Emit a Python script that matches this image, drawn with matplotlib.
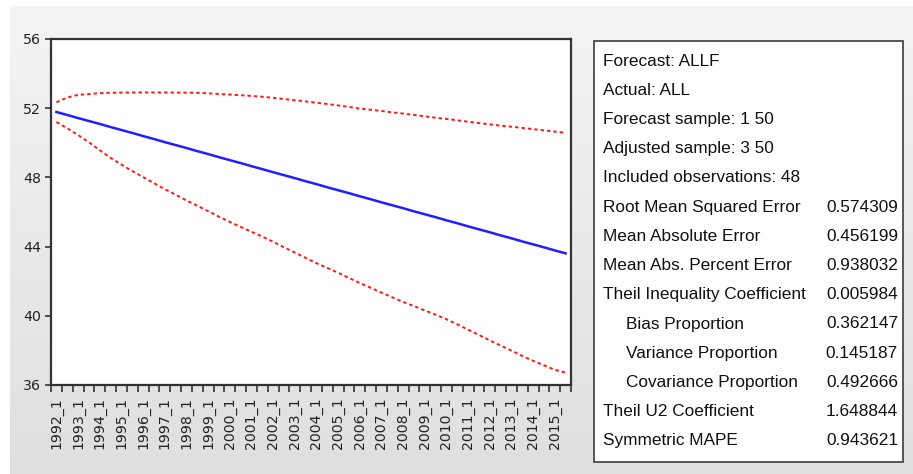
import numpy as np
import matplotlib
matplotlib.use("Agg")
import matplotlib.pyplot as plt
from matplotlib.patches import Rectangle

# ---------------- data ----------------
years = list(range(1992, 2016))
tick_labels = [f"{y}_1" for y in years]

forecast = [51.78, 51.61, 51.43, 51.26, 51.09, 50.91, 50.74, 50.57, 50.39, 50.22,
            50.04, 49.87, 49.70, 49.52, 49.35, 49.17, 49.00, 48.83, 48.65, 48.48,
            48.30, 48.13, 47.96, 47.78, 47.61, 47.43, 47.26, 47.09, 46.91, 46.74,
            46.56, 46.39, 46.22, 46.04, 45.87, 45.70, 45.52, 45.35, 45.17, 45.00,
            44.83, 44.65, 44.48, 44.30, 44.13, 43.96, 43.78, 43.61]

upper = [52.34, 52.62, 52.77, 52.82, 52.87, 52.89, 52.90, 52.91, 52.91, 52.91,
         52.91, 52.90, 52.90, 52.89, 52.86, 52.82, 52.79, 52.75, 52.71, 52.66,
         52.60, 52.53, 52.46, 52.39, 52.32, 52.24, 52.16, 52.07, 51.98, 51.91,
         51.84, 51.76, 51.69, 51.61, 51.53, 51.45, 51.38, 51.30, 51.22, 51.14,
         51.07, 50.99, 50.93, 50.86, 50.79, 50.72, 50.65, 50.58]

lower = [51.20, 50.84, 50.45, 50.03, 49.57, 49.13, 48.74, 48.37, 48.02, 47.67,
         47.32, 47.00, 46.67, 46.36, 46.05, 45.73, 45.43, 45.14, 44.86, 44.58,
         44.28, 43.96, 43.66, 43.35, 43.04, 42.77, 42.49, 42.19, 41.90, 41.62,
         41.34, 41.07, 40.80, 40.56, 40.31, 40.07, 39.80, 39.51, 39.20, 38.89,
         38.58, 38.28, 37.99, 37.68, 37.40, 37.14, 36.88, 36.72]

y_ticks = [36, 40, 44, 48, 52, 56]

stats_labels = ["Forecast: ALLF", "Actual: ALL", "Forecast sample: 1 50",
                "Adjusted sample: 3 50", "Included observations: 48",
                "Root Mean Squared Error", "Mean Absolute Error",
                "Mean Abs. Percent Error", "Theil Inequality Coefficient",
                "Bias Proportion", "Variance Proportion", "Covariance Proportion",
                "Theil U2 Coefficient", "Symmetric MAPE"]
stats_values = ["", "", "", "", "", "0.574309", "0.456199", "0.938032", "0.005984",
                "0.362147", "0.145187", "0.492666", "1.648844", "0.943621"]
stats_indent = [False] * 9 + [True, True, True, False, False]

# ---------------- figure ----------------
W, H = 913, 474
fig = plt.figure(figsize=(W / 100, H / 100), dpi=100)
fig.patch.set_facecolor("white")

def fx(px):
    return px / W

def fy(py):
    return 1 - py / H

# gradient background
bg = fig.add_axes([fx(10), 0, 1 - fx(10), fy(6)])
grad = np.linspace(0, 1, 256).reshape(-1, 1)
c_top = np.array([0.957, 0.957, 0.957])
c_bot = np.array([0.875, 0.875, 0.875])
img = c_top[None, None, :] * (1 - grad[:, :, None]) + c_bot[None, None, :] * grad[:, :, None]
bg.imshow(img, aspect="auto", extent=[0, 1, 0, 1])
bg.set_axis_off()
bg.set_zorder(0)

# main axes
left, right, top, bottom = 51, 571, 39, 385
ax = fig.add_axes([fx(left), fy(bottom), fx(right - left), (bottom - top) / H])
ax.set_zorder(2)
ax.set_facecolor("white")

n = len(forecast)
x = np.arange(n) + 0.5
ax.plot(x, upper, color="#ff1a1a", lw=1.4, ls=(0, (1.8, 1.5)))
ax.plot(x, lower, color="#ff1a1a", lw=1.4, ls=(0, (1.8, 1.5)))
ax.plot(x, forecast, color="#1f1fff", lw=1.8)

ax.set_xlim(0, n)
ax.set_ylim(36, 56)
ax.set_yticks(y_ticks)
ax.set_yticklabels([str(v) for v in y_ticks])

ax.set_xticks(np.arange(n + 1))
ax.set_xticklabels([])
ax.set_xticks(np.arange(0, n, 2) + 0.5, minor=True)
ax.set_xticklabels(tick_labels, minor=True, rotation=90)

ax.tick_params(axis="x", which="major", length=5, width=1.2, color="#333333", direction="out")
ax.tick_params(axis="x", which="minor", length=0, pad=9, labelsize=10.2, labelcolor="#222222")
ax.tick_params(axis="y", which="major", length=4, width=1.2, color="#333333", pad=3,
               labelsize=10.2, labelcolor="#222222")
for lab in ax.get_xticklabels(minor=True) + ax.get_yticklabels():
    lab.set_fontfamily("DejaVu Sans")

for sp in ax.spines.values():
    sp.set_color("#333333")
    sp.set_linewidth(1.6)

# stats box
bx0, by0, bx1, by1 = 594, 41, 903, 462
box = Rectangle((fx(bx0), fy(by1)), fx(bx1 - bx0), (by1 - by0) / H,
                transform=fig.transFigure, facecolor="white", edgecolor="#4a4a4a",
                lw=1.3, zorder=3)
fig.patches.append(box)

base0, pitch = 65.7, 29.2
for i, (lab, val, ind) in enumerate(zip(stats_labels, stats_values, stats_indent)):
    yb = base0 + i * pitch
    xl = 625.5 if ind else 603
    fig.text(fx(xl), fy(yb), lab, ha="left", va="baseline", fontsize=12.4,
             family="Liberation Sans", color="#111111", zorder=4)
    if val:
        fig.text(fx(898), fy(yb), val, ha="right", va="baseline", fontsize=12.4,
                 family="Liberation Sans", color="#111111", zorder=4)

fig.savefig("out.png", dpi=100)
